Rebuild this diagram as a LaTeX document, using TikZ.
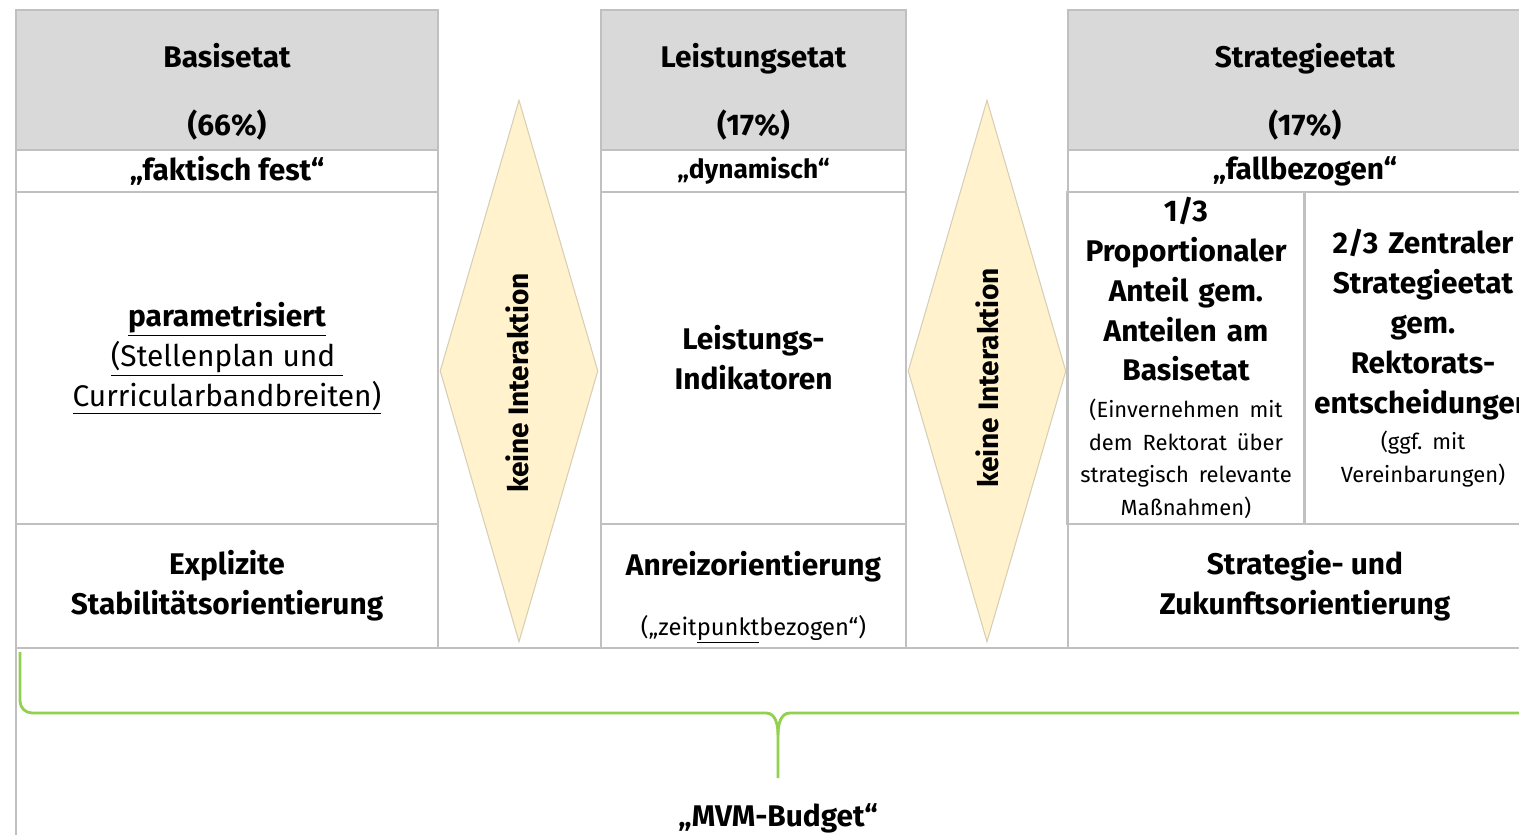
\documentclass[tikz,border=0pt]{standalone}
\usepackage{fontspec}
\setmainfont{Fira Sans}
\frenchspacing
\usetikzlibrary{shapes.geometric}
\pgfdeclarelayer{celllayer}
\pgfsetlayers{celllayer,main}
\definecolor{cellline}{HTML}{C0C0C0}
\definecolor{headfill}{HTML}{D9D9D9}
\definecolor{gapfill}{HTML}{FFF2CC}
\definecolor{gapline}{HTML}{D6CFB6}
\definecolor{bracegreen}{HTML}{92D050}
\newcommand{\cellfont}{\fontsize{17}{22.7}\selectfont}
\newcommand{\notefont}{\fontsize{12.5}{18.7}\selectfont}
\newcommand{\toppad}{\rule{0pt}{27pt}}
\tikzstyle{cell}=[fill=white, draw=cellline, line width=1.5pt, shape=rectangle, inner sep=0pt, align=center, font=\cellfont\bfseries]
\tikzstyle{head}=[cell, fill=headfill]
\tikzstyle{col basis}=[minimum width=8.44cm]
\tikzstyle{col leistung}=[minimum width=6.1cm]
\tikzstyle{col strategie}=[minimum width=9.48cm]
\tikzstyle{col half}=[minimum width=4.74cm, text width=4.6cm]
\tikzstyle{row head}=[minimum height=2.8cm]
\tikzstyle{row tag}=[minimum height=0.84cm]
\tikzstyle{row body}=[minimum height=6.64cm]
\tikzstyle{row foot}=[minimum height=2.48cm]
\tikzstyle{gap}=[shape=diamond, fill=gapfill, draw=gapline, line width=0.6pt, inner sep=0pt, minimum width=3.16cm, minimum height=10.84cm]
\tikzstyle{gap label}=[rotate=90, font=\fontsize{16}{20}\selectfont\bfseries]
\tikzstyle{brace}=[draw=bracegreen, line width=1.6pt]

\begin{document}
\begin{tikzpicture}[x=0.02cm, y=-0.02cm]
	\useasboundingbox (0,0) rectangle (1519,835);
	\begin{pgfonlayer}{celllayer}
		% Basisetat
		\node [style=head, style=col basis, style=row head] (basis) at (227,80) {\toppad Basisetat\\[16pt](66\%)};
		\node [style=cell, style=col basis, style=row tag] (basistag) at (227,171) {„faktisch fest“};
		\node [style=cell, style=col basis, style=row body] (basisbody) at (227,358) {\underline{parametrisiert}\\ {\mdseries\underline{(Stellenplan und\ }}\\ {\mdseries\underline{Curricularbandbreiten)}}};
		\node [style=cell, style=col basis, style=row foot] (basisfoot) at (227,586) {Explizite\\ Stabilitätsorientierung};
		% Leistungsetat
		\node [style=head, style=col leistung, style=row head] (leistung) at (753.5,80) {\toppad Leistungsetat\\[16pt](17\%)};
		\node [style=cell, style=col leistung, style=row tag, font=\fontsize{15}{18}\selectfont\bfseries] (leistungtag) at (753.5,171) {„dynamisch“};
		\node [style=cell, style=col leistung, style=row body] (leistungbody) at (753.5,358) {Leistungs-\\ Indikatoren};
		\node [style=cell, style=col leistung, style=row foot, text width=5.8cm] (leistungfoot) at (753.5,586) {\toppad Anreizorientierung\par\vspace{15pt}{\fontsize{13.5}{18.7}\selectfont\mdseries(„zeit\underline{punkt}bezogen“)\par}};
		% Strategieetat
		\node [style=head, style=col strategie, style=row head] (strategie) at (1305,80) {\toppad Strategieetat\\[16pt](17\%)};
		\node [style=cell, style=col strategie, style=row tag] (strategietag) at (1305,171) {„fallbezogen“};
		\node [style=cell, style=col half, style=row body] (strategiebodyL) at (1186,358) {1/3\\ Proportionaler\\ Anteil gem.\\ Anteilen am\\ Basisetat\par\vspace{2pt}{\notefont\mdseries(Einvernehmen mit\\ dem Rektorat über\\ strategisch relevante\\ Maßnahmen)\par}};
		\node [style=cell, style=col half, style=row body] (strategiebodyR) at (1423,358) {2/3 Zentraler\\ Strategieetat\\ gem.\\ Rektorats-\\ entscheidungen\par\vspace{2pt}{\notefont\mdseries(ggf. mit\\ Vereinbarungen)\par}};
		\node [style=cell, style=col strategie, style=row foot] (strategiefoot) at (1305,586) {Strategie- und\\ Zukunftsorientierung};
		% MVM-Budget
		\node [style=cell, minimum width=30.52cm, minimum height=5.04cm] (budget) at (779,774) {};
	\end{pgfonlayer}
	\node [style=gap] (gapA) at (519,371) {};
	\node [style=gap] (gapB) at (987,371) {};
	\node [style=gap label] (labelA) at (517,383) {keine Interaktion};
	\node [style=gap label] (labelB) at (987,378) {keine Interaktion};
	\coordinate (braceL) at (20,652);
	\coordinate (braceR) at (1538,652);
	\coordinate (braceTip) at (778,778);
	\draw [style=brace] (braceL) -- (20,701) to[out=-90,in=180] (32,713) -- (766,713) to[out=0,in=90] (778,735) -- (braceTip);
	\draw [style=brace] (braceR) -- (1538,701) to[out=-90,in=0] (1526,713) -- (790,713) to[out=180,in=90] (778,735);
	\node [font=\cellfont\bfseries] (budgetlabel) at (778,818) {„MVM-Budget“};
\end{tikzpicture}
\end{document}
